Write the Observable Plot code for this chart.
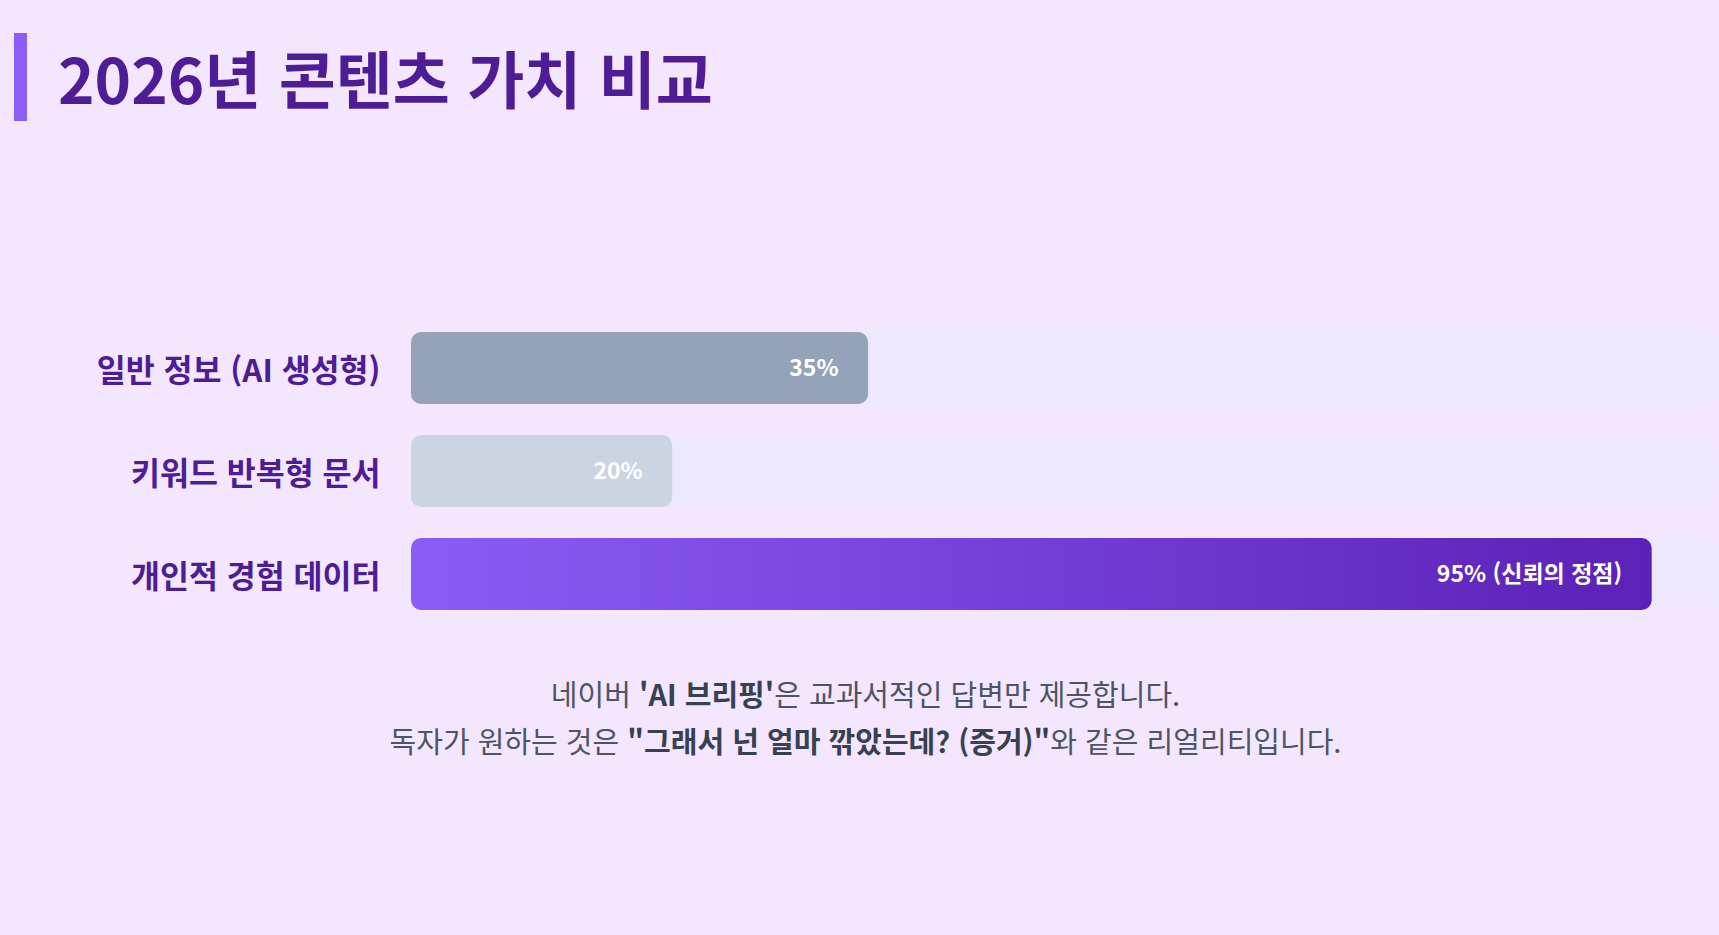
<!DOCTYPE html>
<html lang="ko">
<head>
<meta charset="utf-8">
<script src="https://cdn.jsdelivr.net/npm/d3@7"></script>
<script src="https://cdn.jsdelivr.net/npm/@observablehq/plot@0.6"></script>
<style>
  html, body { margin: 0; padding: 0; }
  body {
    width: 1719px; height: 935px; overflow: hidden;
    background: #f4e6fe;
    font-family: "Noto Sans CJK KR", "Noto Sans", sans-serif;
  }
  #header { position: relative; height: 200px; }
  #accent { position: absolute; left: 14px; top: 33px; width: 13px; height: 88px; background: #8b5cf6; }
  #title {
    position: absolute; left: 58px; top: 37px; margin: 0;
    font-size: 62px; font-weight: 700; color: #4c1d95; line-height: 80px;
  }
  #chart { height: 470px; }
  #caption {
    width: 1719px; text-align: center; color: #4b5563;
    font-size: 29px; line-height: 47px; padding-left: 12px; box-sizing: border-box;
  }
  #caption b { color: #374151; font-weight: 700; }
</style>
</head>
<body>
<div id="header">
  <div id="accent"></div>
  <h1 id="title">2026년 콘텐츠 가치 비교</h1>
</div>
<div id="chart"></div>
<div id="caption">
  <div>네이버 <b>'AI 브리핑'</b>은 교과서적인 답변만 제공합니다.</div>
  <div>독자가 원하는 것은 <b>"그래서 넌 얼마 깎았는데? (증거)"</b>와 같은 리얼리티입니다.</div>
</div>
<script>
const categories = ["일반 정보 (AI 생성형)", "키워드 반복형 문서", "개인적 경험 데이터"];
const values = [35, 20, 95];
const valueLabels = ["35%", "20%", "95% (신뢰의 정점)"];
const barColors = ["#94a3b8", "#cbd5e1", "url(#trustGradient)"];

const data = categories.map((c, i) => ({category: c, value: values[i], label: valueLabels[i], color: barColors[i]}));

const plot = Plot.plot({
  width: 1719,
  height: 470,
  marginLeft: 411,
  marginRight: 2,
  marginTop: 116.5,
  marginBottom: 44.5,
  style: { background: "transparent", fontFamily: "'Noto Sans CJK KR', sans-serif" },
  x: { domain: [0, 100], axis: null },
  y: { domain: categories, paddingInner: 0.3, paddingOuter: 0.15, label: null },
  color: { type: "identity" },
  marks: [
    Plot.barX(data, { y: "category", x1: 0, x2: 100, fill: "#ede8fd", rx: 10 }),
    Plot.barX(data, { y: "category", x1: 0, x2: "value", fill: "color", rx: 10 }),
    Plot.text(data, { y: "category", x: "value", text: "label", textAnchor: "end", dx: -30,
      fill: "white", fontWeight: 700, fontSize: 23 }),
    Plot.axisY({ tickSize: 0, tickPadding: 31, fontSize: 31.5, fontWeight: 700, fill: "#4c1d95", dy: 3, label: null })
  ]
});

const svg = d3.select(plot);
const defs = svg.insert("defs", ":first-child");
const grad = defs.append("linearGradient").attr("id", "trustGradient")
  .attr("x1", "0").attr("x2", "1").attr("y1", "0").attr("y2", "0");
grad.append("stop").attr("offset", "0%").attr("stop-color", "#8b5cf6");
grad.append("stop").attr("offset", "100%").attr("stop-color", "#5b21b6");

document.getElementById("chart").appendChild(plot);
</script>
</body>
</html>
